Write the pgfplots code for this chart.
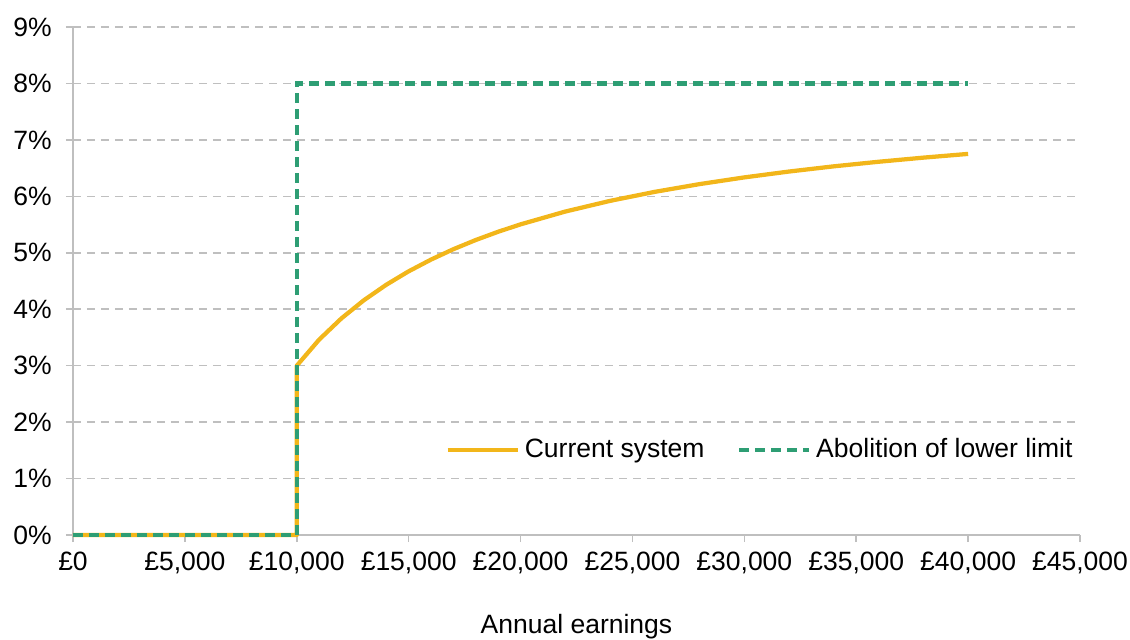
\documentclass[border=0pt]{standalone}
\usepackage{fontspec}
\setmainfont{Liberation Sans}
\usepackage{pgfplots}
\pgfplotsset{compat=1.18}
\definecolor{curorange}{RGB}{242,182,26}
\definecolor{abolgreen}{RGB}{46,158,116}
\definecolor{gridgrey}{RGB}{191,191,191}
\begin{document}
\begin{tikzpicture}
\useasboundingbox (-29.2pt,-41.6pt) rectangle (422.8pt,214pt);
\begin{axis}[
  scale only axis,
  width=402.8pt, height=203.2pt,
  xmin=0, xmax=45000, ymin=0, ymax=9,
  axis x line*=bottom, axis y line*=left,
  axis line style={gridgrey, line width=0.6pt},
  tick style={gridgrey, line width=0.6pt},
  tick align=outside, major tick length=2.8pt,
  xtick={0,5000,10000,15000,20000,25000,30000,35000,40000,45000},
  xticklabels={£0,{£5,000},{£10,000},{£15,000},{£20,000},{£25,000},{£30,000},{£35,000},{£40,000},{£45,000}},
  ytick={0,1,2,3,4,5,6,7,8,9},
  yticklabels={0\%,1\%,2\%,3\%,4\%,5\%,6\%,7\%,8\%,9\%},
  scaled x ticks=false,
  ymajorgrids,
  major grid style={gridgrey, line width=0.6pt, dash pattern=on 3.2pt off 2.4pt},
  ticklabel style={font=\fontsize{10.6}{12.7}\selectfont, black},
  xticklabel style={yshift=-0.5pt},
  yticklabel style={xshift=-2.2pt},
  xlabel={Annual earnings},
  xlabel style={font=\fontsize{10.6}{12.7}\selectfont, at={(axis description cs:0.5,0)}, anchor=center, yshift=-36.5pt},
  legend columns=2,
  legend style={draw=none, fill=none, at={(rel axis cs:0.998,0.167)}, anchor=east,
    font=\fontsize{10.6}{12.7}\selectfont, inner sep=0pt,
    /tikz/every even column/.append style={column sep=11pt}},
  legend cell align=left,
  legend image code/.code={\draw[#1] (0pt,0pt) -- (28pt,0pt);},
  clip=false,
]
\addplot[curorange, line width=1.7pt, line join=round] coordinates {
(0,0) (10000,0) (10000,3.0)
(11000,3.462) (12000,3.84) (13000,4.16) (14000,4.434) (15000,4.672)
(16000,4.88) (17000,5.064) (18000,5.227) (19000,5.373) (20000,5.504)
(22000,5.731) (24000,5.92) (26000,6.08) (28000,6.217) (30000,6.336)
(32000,6.44) (34000,6.532) (36000,6.613) (38000,6.686) (40000,6.752)
};
\addlegendentry{Current system}
\addplot[abolgreen, line width=1.7pt, dash pattern=on 4pt off 2.4pt] coordinates {
(0,0) (10000,0) (10000,8) (40000,8)
};
\addlegendentry{Abolition of lower limit}
\end{axis}
\end{tikzpicture}
\end{document}
